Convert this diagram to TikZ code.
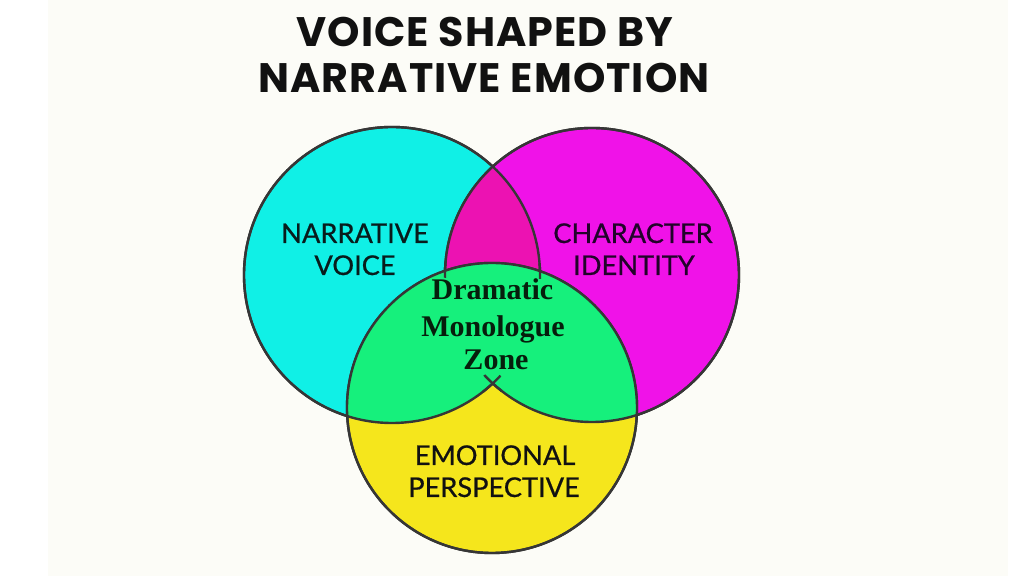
\documentclass[tikz,border=0pt]{standalone}
\usepackage{fontspec}
\setmainfont{Liberation Serif}
\newfontfamily\titlefont[LetterSpace=2.5]{Poppins}
\newfontfamily\labelfont[FakeBold=0.7]{Lato}
\newfontfamily\zonefont{Liberation Serif}
\definecolor{bgc}{HTML}{FCFCF7}
\definecolor{cyanc}{HTML}{10F0E6}
\definecolor{magc}{HTML}{F012E8}
\definecolor{lensc}{HTML}{EC12B2}
\definecolor{greenc}{HTML}{16F07C}
\definecolor{yellowc}{HTML}{F5E61C}
\definecolor{edgec}{HTML}{363636}
\definecolor{ink}{HTML}{111111}
\definecolor{inkteal}{HTML}{081C1C}
\definecolor{inkpurple}{HTML}{22032A}
\definecolor{inkgreen}{HTML}{061E0C}
\tikzset{
  ring/.style={draw=edgec, line width=1.2pt},
  titletext/.style={anchor=base, inner sep=0pt, text=ink, font=\titlefont\bfseries\fontsize{20.6}{24}\selectfont},
  labeltext/.style={anchor=base, inner sep=0pt, font=\labelfont\fontsize{13.6}{16}\selectfont},
  zonetext/.style={anchor=base, inner sep=0pt, text=inkgreen, font=\zonefont\bfseries\fontsize{15}{18}\selectfont}
}
\begin{document}
\begin{tikzpicture}[x=0.5pt,y=-0.5pt]
\useasboundingbox (0,0) rectangle (1024,576);
\fill[white] (0,0) rectangle (1024,576);
\fill[bgc] (48,0) rectangle (1008,576);
\coordinate (C) at (392,275);
\coordinate (M) at (592,275);
\coordinate (Y) at (492,408);
\coordinate (X) at (492,384);
\coordinate (SL) at (446,270);
\coordinate (SR) at (540,271);
% cyan and magenta circles
\filldraw[ring, fill=cyanc] (C) circle[radius=74pt];
\filldraw[ring, fill=magc] (M) circle[radius=73.5pt];
% lens
\begin{scope}
  \clip (C) circle[radius=74pt];
  \fill[lensc] (M) circle[radius=73.5pt];
\end{scope}
\draw[ring] (C) circle[radius=74pt];
\draw[ring] (M) circle[radius=73.5pt];
% yellow circle
\filldraw[ring, fill=yellowc] (Y) circle[radius=72.5pt];
% green zone
\begin{scope}
  \clip (Y) circle[radius=72.5pt];
  \fill[greenc] (C) circle[radius=74pt];
  \fill[greenc] (M) circle[radius=73.5pt];
\end{scope}
% lower arcs of the green zone
\begin{scope}[even odd rule]
  \clip (Y) circle[radius=72.5pt];
  \clip (M) circle[radius=73.5pt] (0,0) rectangle (1024,576);
  \draw[ring] (C) circle[radius=74pt];
\end{scope}
\begin{scope}[even odd rule]
  \clip (Y) circle[radius=72.5pt];
  \clip (C) circle[radius=74pt] (0,0) rectangle (1024,576);
  \draw[ring] (M) circle[radius=73.5pt];
\end{scope}
\draw[ring] (Y) circle[radius=72.5pt];
% small crossing stubs
\begin{scope}
  \clip (X) circle[radius=6pt];
  \draw[ring] (C) circle[radius=74pt];
  \draw[ring] (M) circle[radius=73.5pt];
\end{scope}
\begin{scope}
  \clip (SL) circle[radius=4pt];
  \draw[ring] (M) circle[radius=73.5pt];
\end{scope}
\begin{scope}
  \clip (SR) circle[radius=4pt];
  \draw[ring] (C) circle[radius=74pt];
\end{scope}
% title
\node[titletext] (t1) at (485,47) {VOICE SHAPED BY};
\node[titletext] (t2) at (484,93) {NARRATIVE EMOTION};
% labels
\node[labeltext, text=inkteal] (nv1) at (355,243) {NARRATIVE};
\node[labeltext, text=inkteal] (nv2) at (355,275) {VOICE};
\node[labeltext, text=inkpurple] (ci1) at (633,243) {CHARACTER};
\node[labeltext, text=inkpurple] (ci2) at (634,275) {IDENTITY};
\node[labeltext, text=ink] (ep1) at (495,465) {EMOTIONAL};
\node[labeltext, text=ink] (ep2) at (494,497) {PERSPECTIVE};
% zone
\node[zonetext] (z1) at (492.5,300) {Dramatic};
\node[zonetext] (z2) at (493,337) {Monologue};
\node[zonetext] (z3) at (496,370) {Zone};
\end{tikzpicture}
\end{document}
